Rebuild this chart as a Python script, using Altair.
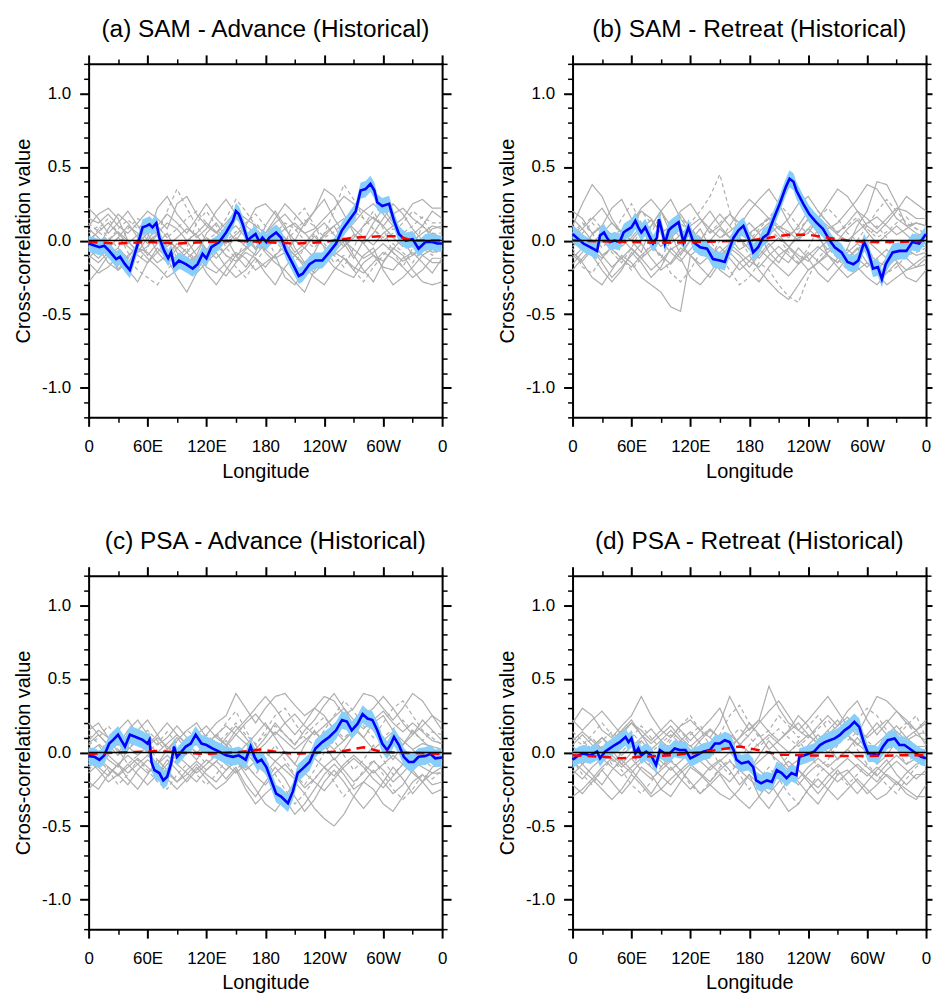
import altair as alt
import pandas as pd

FONT = "Liberation Sans"

TITLES = ["(a) SAM - Advance (Historical)", "(b) SAM - Retreat (Historical)",
          "(c) PSA - Advance (Historical)", "(d) PSA - Retreat (Historical)"]
X_TITLE = "Longitude"
Y_TITLE = "Cross-correlation value"
X_MAJOR = [0, 60, 120, 180, 240, 300, 360]
X_LABELS = ["0", "60E", "120E", "180", "120W", "60W", "0"]
X_MINOR = [30, 90, 150, 210, 270, 330]
Y_MAJOR = [-1.0, -0.5, 0.0, 0.5, 1.0]
Y_LABELS = ["-1.0", "-0.5", "0.0", "0.5", "1.0"]
Y_MINOR = [-1.2, -1.1, -0.9, -0.8, -0.7, -0.6, -0.4, -0.3, -0.2, -0.1,
           0.1, 0.2, 0.3, 0.4, 0.6, 0.7, 0.8, 0.9, 1.1, 1.2]
ZERO = [0.0]

# ensemble members (gray), sampled every 10 degrees of longitude
LON10 = list(range(0, 361, 10))
GRAY_DASHED = [0, 0, 1, 0, 0, 1, 0, 0, 0, 1, 0, 0, 1, 0, 0, 0]

GRAY_A = [
    [0.15,0.12,0.18,0.10,0.05,0.12,0.20,0.15,0.08,0.25,0.30,0.18,0.10,0.05,0.12,0.20,0.15,0.10,0.05,0.12,0.18,0.10,0.05,0.08,0.15,0.22,0.30,0.25,0.20,0.15,0.10,0.18,0.22,0.15,0.10,0.20,0.15],
    [-0.10,-0.15,-0.08,-0.20,-0.15,-0.05,-0.12,-0.18,-0.25,-0.20,-0.15,-0.10,-0.18,-0.22,-0.15,-0.08,-0.12,-0.20,-0.15,-0.10,-0.25,-0.30,-0.20,-0.15,-0.10,-0.18,-0.22,-0.25,-0.15,-0.10,-0.18,-0.20,-0.12,-0.08,-0.15,-0.22,-0.12],
    [0.05,0.10,0.02,-0.05,0.08,0.15,0.10,0.05,0.20,0.35,0.22,0.10,0.00,0.05,0.15,0.28,0.20,0.10,-0.02,0.05,0.12,0.08,0.00,-0.05,0.05,0.20,0.38,0.28,0.15,0.08,0.00,0.05,0.12,0.20,0.15,0.05,0.05],
    [-0.28,-0.20,-0.10,-0.05,-0.12,-0.02,0.05,-0.08,-0.15,-0.05,0.00,-0.10,-0.22,-0.30,-0.20,-0.10,-0.05,0.02,-0.08,-0.15,-0.20,-0.28,-0.35,-0.20,-0.12,-0.05,0.02,-0.10,-0.20,-0.28,-0.15,-0.05,-0.10,-0.20,-0.28,-0.30,-0.28],
    [0.22,0.15,0.05,0.12,0.20,0.10,0.00,0.10,0.18,0.12,0.05,0.15,0.25,0.15,0.08,0.00,0.10,0.22,0.25,0.18,0.08,0.00,0.12,0.20,0.28,0.15,0.05,0.12,0.20,0.25,0.18,0.10,0.15,0.25,0.28,0.22,0.22],
    [-0.05,0.00,-0.10,-0.18,-0.12,-0.20,-0.25,-0.30,-0.20,-0.12,-0.05,-0.15,-0.08,0.00,-0.10,-0.18,-0.25,-0.15,-0.05,0.00,-0.08,-0.15,-0.05,0.05,-0.05,-0.15,-0.10,-0.20,-0.28,-0.18,-0.10,-0.02,-0.08,-0.15,-0.05,-0.10,-0.05],
    [0.10,0.18,0.22,0.15,0.00,-0.08,0.02,0.22,0.30,0.18,0.10,0.02,0.08,0.20,0.28,0.18,0.05,-0.05,0.05,0.15,0.25,0.18,0.10,0.20,0.35,0.30,0.18,0.05,-0.02,0.05,0.15,0.25,0.18,0.08,0.00,0.08,0.10],
    [-0.15,-0.22,-0.18,-0.10,-0.20,-0.28,-0.15,-0.05,-0.12,-0.25,-0.35,-0.22,-0.15,-0.08,-0.18,-0.25,-0.20,-0.12,-0.22,-0.30,-0.18,-0.10,-0.18,-0.25,-0.30,-0.20,-0.12,-0.20,-0.10,-0.05,-0.20,-0.30,-0.25,-0.18,-0.10,-0.15,-0.15],
    [0.02,-0.05,0.08,0.18,0.12,0.02,-0.10,-0.02,0.05,-0.08,-0.20,-0.10,0.05,0.12,0.02,-0.10,-0.18,-0.08,0.10,0.20,0.10,-0.05,-0.15,-0.08,0.05,0.10,-0.02,-0.12,0.00,0.12,0.22,0.12,0.00,-0.10,-0.05,0.05,0.02],
    [-0.02,0.08,0.15,0.05,-0.08,-0.15,-0.05,0.10,0.02,-0.12,-0.05,0.12,0.20,0.10,-0.05,-0.12,0.00,0.12,0.05,-0.10,-0.02,0.15,0.22,0.10,-0.02,-0.10,-0.18,-0.05,0.10,0.20,0.08,-0.08,-0.18,-0.05,0.10,0.02,-0.02],
    [0.08,0.02,-0.05,0.02,0.10,0.05,-0.02,0.05,0.12,0.08,0.00,0.05,0.12,0.06,-0.02,0.04,0.10,0.05,-0.03,0.02,0.08,0.12,0.05,-0.02,0.03,0.10,0.15,0.08,0.02,-0.03,0.05,0.10,0.06,0.00,0.05,0.10,0.08],
    [-0.06,-0.12,-0.05,0.02,-0.04,-0.10,-0.15,-0.08,0.00,-0.05,-0.12,-0.06,0.02,-0.03,-0.10,-0.14,-0.06,0.00,-0.06,-0.12,-0.08,0.00,-0.05,-0.12,-0.15,-0.08,0.00,-0.06,-0.12,-0.08,-0.02,-0.08,-0.14,-0.10,-0.03,-0.08,-0.06],
    [0.12,0.06,0.00,0.08,0.14,0.08,0.15,0.10,0.02,0.08,0.15,0.20,0.12,0.05,0.00,0.06,0.12,0.18,0.10,0.03,0.00,0.06,0.14,0.10,0.02,0.06,0.12,0.20,0.15,0.08,0.02,0.08,0.05,0.10,0.16,0.12,0.12],
    [-0.12,-0.05,-0.15,-0.20,-0.10,-0.05,-0.08,-0.15,-0.10,-0.02,-0.08,-0.16,-0.10,-0.18,-0.24,-0.15,-0.08,-0.12,-0.18,-0.10,-0.04,-0.10,-0.16,-0.22,-0.15,-0.08,-0.12,-0.18,-0.22,-0.15,-0.08,-0.12,-0.18,-0.25,-0.20,-0.12,-0.12],
    [0.00,0.06,0.12,0.05,-0.02,0.04,0.10,0.04,-0.04,0.02,0.08,0.04,-0.06,-0.02,0.05,0.10,0.02,-0.06,0.00,0.08,0.02,-0.08,-0.02,0.06,0.12,0.04,-0.04,0.02,0.10,0.16,0.10,0.02,-0.04,0.04,0.10,0.04,0.00],
    [-0.04,-0.08,0.00,0.06,0.00,-0.08,-0.04,0.04,-0.06,-0.14,-0.08,0.00,-0.06,-0.12,-0.05,0.02,-0.04,-0.10,-0.02,0.04,-0.02,-0.10,-0.05,0.03,-0.04,-0.10,-0.04,0.04,-0.02,-0.10,-0.14,-0.06,0.02,-0.04,-0.10,-0.06,-0.04],
]
GRAY_B = [
    [0.10,0.25,0.38,0.30,0.15,0.05,0.10,0.20,0.15,0.05,0.10,0.20,0.25,0.15,0.05,0.10,0.18,0.12,0.05,0.10,0.15,0.08,0.02,0.10,0.20,0.15,0.08,0.12,0.20,0.28,0.38,0.35,0.25,0.15,0.10,0.12,0.10],
    [-0.10,-0.15,-0.25,-0.30,-0.20,-0.10,-0.15,-0.25,-0.30,-0.35,-0.45,-0.48,-0.10,-0.05,-0.12,-0.20,-0.25,-0.15,-0.10,-0.20,-0.28,-0.35,-0.40,-0.30,-0.20,-0.15,-0.10,-0.18,-0.25,-0.20,-0.15,-0.22,-0.30,-0.25,-0.20,-0.15,-0.10],
    [0.05,0.12,0.05,-0.05,0.02,0.15,0.25,0.12,0.05,0.18,0.10,0.02,0.12,0.20,0.30,0.45,0.20,0.05,0.00,0.08,0.15,0.25,0.18,0.10,0.05,0.15,0.22,0.15,0.05,0.00,0.10,0.20,0.28,0.20,0.12,0.08,0.05],
    [-0.20,-0.12,-0.05,-0.15,-0.25,-0.18,-0.10,-0.02,-0.12,-0.20,-0.15,-0.05,-0.10,-0.18,-0.25,-0.15,-0.08,-0.15,-0.22,-0.28,-0.18,-0.10,-0.05,-0.12,-0.20,-0.15,-0.08,-0.02,-0.10,-0.18,-0.25,-0.30,-0.22,-0.15,-0.25,-0.28,-0.20],
    [0.15,0.08,0.15,0.22,0.12,0.05,0.12,0.22,0.28,0.20,0.10,0.18,0.08,0.00,0.10,0.18,0.10,0.20,0.28,0.22,0.15,0.08,0.15,0.25,0.30,0.20,0.12,0.05,0.12,0.20,0.15,0.08,0.15,0.22,0.20,0.15,0.15],
    [-0.05,-0.18,-0.22,-0.12,-0.05,-0.12,-0.20,-0.12,-0.02,-0.10,-0.22,-0.28,-0.20,-0.08,0.00,-0.10,-0.20,-0.30,-0.25,-0.15,-0.20,-0.30,-0.38,-0.42,-0.25,-0.12,-0.05,-0.12,-0.20,-0.12,-0.05,-0.15,-0.22,-0.18,-0.10,-0.08,-0.05],
    [0.20,0.15,0.05,0.10,0.22,0.28,0.15,0.05,0.10,0.20,0.28,0.15,0.05,0.12,0.20,0.10,0.02,0.10,0.20,0.28,0.35,0.25,0.12,0.02,0.05,0.15,0.25,0.35,0.30,0.20,0.10,0.05,0.12,0.20,0.30,0.25,0.20],
    [-0.12,-0.05,-0.10,-0.20,-0.28,-0.20,-0.08,-0.15,-0.25,-0.18,-0.05,-0.12,-0.25,-0.30,-0.22,-0.12,-0.05,-0.10,-0.18,-0.10,-0.02,-0.10,-0.15,-0.05,-0.12,-0.22,-0.28,-0.20,-0.12,-0.05,-0.15,-0.20,-0.12,-0.05,-0.12,-0.18,-0.12],
    [0.02,0.08,0.00,-0.10,-0.05,0.05,0.00,-0.08,0.10,0.20,0.05,-0.10,0.00,0.08,-0.05,-0.15,-0.05,0.05,0.12,0.05,-0.08,-0.15,-0.05,0.05,0.15,0.05,-0.10,-0.15,-0.05,0.10,0.20,0.40,0.38,0.25,0.10,0.05,0.02],
    [-0.02,0.05,0.12,0.05,-0.08,-0.15,-0.05,0.08,-0.02,-0.12,0.00,0.12,0.05,-0.08,-0.12,0.00,0.10,0.02,-0.10,-0.05,0.08,0.02,-0.08,-0.15,-0.05,0.08,0.02,-0.10,-0.18,-0.10,0.02,0.10,0.02,-0.10,-0.05,0.05,-0.02],
    [0.10,0.04,-0.02,0.05,0.12,0.06,0.00,0.08,0.14,0.06,-0.02,0.04,0.10,0.15,0.08,0.02,0.06,0.12,0.05,-0.02,0.04,0.10,0.06,0.00,0.08,0.15,0.10,0.04,0.00,0.06,0.12,0.16,0.10,0.04,0.08,0.12,0.10],
    [-0.08,-0.14,-0.06,0.00,-0.06,-0.12,-0.18,-0.10,-0.04,-0.10,-0.16,-0.08,0.00,-0.06,-0.12,-0.08,-0.02,-0.08,-0.14,-0.18,-0.10,-0.04,-0.10,-0.16,-0.10,-0.04,-0.10,-0.15,-0.08,-0.02,-0.08,-0.14,-0.18,-0.12,-0.06,-0.10,-0.08],
    [0.04,0.10,0.16,0.08,0.02,0.08,0.14,0.20,0.12,0.05,0.10,0.16,0.08,0.02,0.06,0.12,0.18,0.10,0.04,0.10,0.16,0.10,0.04,0.08,0.14,0.20,0.12,0.06,0.10,0.16,0.08,0.02,0.06,0.12,0.16,0.08,0.04],
    [-0.16,-0.08,-0.02,-0.10,-0.18,-0.12,-0.05,-0.12,-0.20,-0.14,-0.06,-0.02,-0.10,-0.16,-0.10,-0.04,-0.12,-0.20,-0.14,-0.06,-0.12,-0.18,-0.24,-0.16,-0.08,-0.14,-0.20,-0.12,-0.06,-0.12,-0.18,-0.12,-0.06,-0.14,-0.20,-0.18,-0.16],
    [0.02,-0.04,0.04,0.10,0.04,-0.04,0.02,0.10,0.04,-0.04,0.02,0.08,0.02,-0.06,0.00,0.08,0.02,-0.06,-0.02,0.06,0.12,0.04,-0.04,0.02,0.08,0.02,-0.06,0.00,0.08,0.14,0.06,-0.02,0.04,0.10,0.04,-0.02,0.02],
    [-0.04,0.02,-0.06,-0.12,-0.04,0.02,-0.06,-0.12,-0.06,0.00,-0.08,-0.14,-0.06,0.02,-0.04,-0.10,-0.04,0.02,-0.06,-0.12,-0.04,0.02,-0.04,-0.10,-0.14,-0.06,0.00,-0.06,-0.12,-0.06,0.00,-0.06,-0.12,-0.06,0.00,-0.04,-0.04],
]
GRAY_C = [
    [0.15,0.20,0.10,0.05,0.15,0.22,0.12,0.05,0.10,0.18,0.10,0.05,0.12,0.20,0.25,0.40,0.30,0.20,0.30,0.38,0.40,0.32,0.25,0.30,0.38,0.35,0.25,0.30,0.40,0.38,0.30,0.22,0.30,0.40,0.35,0.25,0.15],
    [-0.20,-0.25,-0.15,-0.08,-0.18,-0.25,-0.15,-0.05,-0.12,-0.20,-0.15,-0.08,-0.15,-0.20,-0.12,-0.05,-0.15,-0.25,-0.35,-0.40,-0.30,-0.20,-0.28,-0.38,-0.45,-0.50,-0.42,-0.30,-0.20,-0.25,-0.35,-0.40,-0.30,-0.20,-0.15,-0.22,-0.20],
    [0.05,0.10,0.18,0.10,0.02,0.10,0.15,0.08,0.00,0.08,0.15,0.10,0.02,0.10,0.20,0.28,0.15,0.05,0.15,0.25,0.30,0.20,0.10,0.05,0.15,0.25,0.35,0.28,0.18,0.10,0.20,0.30,0.35,0.25,0.15,0.10,0.05],
    [-0.05,-0.12,-0.20,-0.15,-0.08,-0.15,-0.22,-0.15,-0.05,-0.12,-0.20,-0.12,-0.05,-0.10,-0.18,-0.10,-0.22,-0.30,-0.20,-0.10,-0.18,-0.30,-0.40,-0.32,-0.20,-0.12,-0.20,-0.30,-0.38,-0.30,-0.20,-0.10,-0.18,-0.28,-0.20,-0.10,-0.05],
    [0.20,0.12,0.05,0.15,0.22,0.12,0.05,0.12,0.20,0.12,0.05,0.12,0.18,0.10,0.05,0.15,0.22,0.30,0.38,0.30,0.20,0.12,0.20,0.30,0.25,0.15,0.08,0.15,0.25,0.30,0.38,0.30,0.20,0.12,0.18,0.25,0.20],
    [-0.12,-0.05,-0.12,-0.22,-0.15,-0.05,-0.12,-0.20,-0.25,-0.15,-0.08,-0.15,-0.22,-0.15,-0.05,-0.12,-0.05,0.05,-0.05,-0.15,-0.25,-0.35,-0.28,-0.18,-0.10,-0.20,-0.30,-0.22,-0.12,-0.05,-0.15,-0.25,-0.32,-0.25,-0.15,-0.18,-0.12],
    [0.08,0.15,0.10,0.00,0.08,0.15,0.22,0.12,0.02,0.08,0.15,0.20,0.10,0.02,0.10,0.18,0.10,0.02,0.10,0.20,0.12,0.05,0.15,0.22,0.32,0.40,0.30,0.18,0.10,0.20,0.25,0.15,0.05,0.12,0.22,0.15,0.08],
    [-0.25,-0.18,-0.10,-0.15,-0.22,-0.12,-0.05,-0.10,-0.18,-0.25,-0.18,-0.10,-0.18,-0.25,-0.20,-0.12,-0.25,-0.35,-0.28,-0.22,-0.32,-0.42,-0.35,-0.25,-0.15,-0.08,-0.15,-0.25,-0.20,-0.12,-0.20,-0.28,-0.22,-0.12,-0.20,-0.28,-0.25],
    [0.00,0.05,-0.05,-0.10,0.02,0.08,0.00,-0.08,0.02,0.10,0.02,-0.05,0.05,0.12,0.05,-0.02,0.05,0.12,0.20,0.10,0.00,-0.08,0.05,0.15,0.05,-0.05,0.02,0.12,0.22,0.15,0.05,-0.05,0.05,0.15,0.08,0.02,0.00],
    [-0.08,0.00,0.08,0.02,-0.08,-0.02,0.05,-0.05,-0.12,-0.05,0.05,0.00,-0.08,0.00,0.08,0.00,-0.10,-0.15,-0.05,0.05,-0.05,-0.15,-0.22,-0.12,0.00,0.08,-0.02,-0.12,-0.05,0.05,-0.05,-0.15,-0.08,0.02,-0.05,-0.10,-0.08],
    [0.06,0.12,0.05,-0.02,0.06,0.12,0.06,0.00,0.06,0.12,0.06,0.00,0.05,0.12,0.18,0.12,0.20,0.26,0.18,0.12,0.20,0.26,0.18,0.12,0.18,0.24,0.30,0.22,0.16,0.22,0.28,0.20,0.14,0.20,0.14,0.08,0.06],
    [-0.10,-0.04,-0.10,-0.16,-0.10,-0.04,-0.10,-0.16,-0.08,-0.02,-0.08,-0.14,-0.08,-0.02,-0.08,-0.14,-0.08,-0.16,-0.22,-0.14,-0.08,-0.16,-0.24,-0.18,-0.10,-0.04,-0.12,-0.20,-0.14,-0.06,-0.12,-0.20,-0.14,-0.06,-0.10,-0.14,-0.10],
    [0.12,0.06,0.00,0.06,0.12,0.06,0.00,0.06,0.14,0.06,0.00,0.06,0.12,0.06,0.12,0.20,0.12,0.06,0.12,0.18,0.12,0.06,0.12,0.18,0.24,0.16,0.10,0.16,0.22,0.16,0.10,0.16,0.22,0.14,0.08,0.14,0.12],
    [-0.04,-0.10,-0.16,-0.08,-0.02,-0.08,-0.14,-0.08,-0.02,-0.08,-0.14,-0.20,-0.12,-0.06,-0.12,-0.06,0.00,-0.08,-0.14,-0.06,0.00,-0.08,-0.14,-0.20,-0.26,-0.18,-0.10,-0.04,-0.10,-0.18,-0.24,-0.16,-0.08,-0.02,-0.08,-0.06,-0.04],
    [0.02,-0.04,0.04,0.10,0.04,-0.02,0.04,0.10,0.04,-0.02,0.04,0.10,0.04,-0.02,0.04,0.12,0.06,0.00,0.06,0.14,0.08,0.02,0.08,0.14,0.08,0.02,0.08,0.16,0.10,0.02,0.08,0.14,0.08,0.02,0.06,0.04,0.02],
    [-0.14,-0.08,-0.02,-0.08,-0.14,-0.08,-0.02,-0.08,-0.14,-0.20,-0.12,-0.06,-0.12,-0.06,0.00,-0.06,-0.12,-0.06,0.00,-0.06,-0.12,-0.18,-0.10,-0.04,-0.10,-0.16,-0.08,-0.02,-0.08,-0.14,-0.08,-0.02,-0.08,-0.14,-0.20,-0.14,-0.14],
]
GRAY_D = [
    [0.20,0.30,0.25,0.15,0.10,0.18,0.25,0.38,0.25,0.15,0.10,0.18,0.22,0.15,0.10,0.20,0.38,0.25,0.15,0.22,0.45,0.30,0.20,0.15,0.22,0.30,0.38,0.28,0.18,0.12,0.25,0.38,0.35,0.28,0.20,0.15,0.20],
    [-0.30,-0.25,-0.18,-0.25,-0.32,-0.25,-0.15,-0.22,-0.30,-0.25,-0.18,-0.12,-0.20,-0.28,-0.22,-0.15,-0.25,-0.32,-0.38,-0.30,-0.20,-0.30,-0.40,-0.35,-0.25,-0.18,-0.25,-0.32,-0.25,-0.18,-0.25,-0.32,-0.28,-0.20,-0.25,-0.30,-0.30],
    [0.10,0.05,0.12,0.20,0.12,0.05,0.10,0.18,0.10,0.02,0.10,0.18,0.25,0.15,0.05,0.12,0.25,0.32,0.20,0.10,0.15,0.25,0.18,0.10,0.18,0.25,0.15,0.05,0.12,0.22,0.30,0.25,0.15,0.10,0.18,0.25,0.10],
    [-0.15,-0.08,-0.15,-0.22,-0.12,-0.05,-0.12,-0.20,-0.28,-0.18,-0.10,-0.18,-0.25,-0.18,-0.10,-0.05,-0.12,-0.22,-0.15,-0.30,-0.38,-0.28,-0.18,-0.12,-0.20,-0.28,-0.20,-0.12,-0.20,-0.28,-0.20,-0.12,-0.05,-0.15,-0.22,-0.15,-0.15],
    [0.22,0.15,0.22,0.28,0.20,0.12,0.20,0.15,0.08,0.15,0.22,0.15,0.08,0.15,0.22,0.30,0.15,0.05,0.12,0.20,0.28,0.35,0.25,0.15,0.10,0.18,0.25,0.18,0.28,0.35,0.22,0.12,0.20,0.28,0.22,0.15,0.22],
    [-0.05,-0.15,-0.22,-0.12,-0.05,-0.12,-0.22,-0.28,-0.20,-0.10,-0.05,-0.12,-0.22,-0.28,-0.20,-0.10,-0.05,-0.15,-0.25,-0.18,-0.10,-0.18,-0.28,-0.35,-0.25,-0.15,-0.08,-0.15,-0.22,-0.15,-0.08,-0.15,-0.22,-0.28,-0.18,-0.10,-0.05],
    [0.05,0.12,0.05,-0.02,0.08,0.15,0.22,0.12,0.02,0.08,0.15,0.08,0.00,0.08,0.15,0.10,0.02,0.10,0.20,0.12,0.02,0.08,0.15,0.25,0.18,0.08,0.15,0.22,0.12,0.05,0.12,0.20,0.12,0.05,0.10,0.15,0.05],
    [-0.22,-0.28,-0.20,-0.12,-0.20,-0.28,-0.20,-0.10,-0.15,-0.25,-0.30,-0.20,-0.10,-0.15,-0.22,-0.28,-0.32,-0.25,-0.15,-0.22,-0.28,-0.20,-0.12,-0.20,-0.28,-0.35,-0.25,-0.15,-0.12,-0.20,-0.28,-0.22,-0.15,-0.20,-0.28,-0.32,-0.22],
    [0.00,-0.08,0.02,0.10,0.02,-0.08,0.00,0.08,0.00,-0.10,-0.02,0.08,0.02,-0.05,0.05,0.12,0.05,-0.05,-0.12,-0.02,0.08,0.00,-0.10,-0.05,0.05,0.12,0.05,-0.05,0.02,0.10,0.02,-0.08,-0.02,0.08,0.02,-0.05,0.00],
    [-0.08,0.02,0.10,0.02,-0.08,0.00,0.08,0.02,-0.10,-0.02,0.08,0.15,0.05,-0.05,0.02,-0.08,-0.15,-0.05,0.05,0.12,0.02,-0.10,-0.02,0.08,0.00,-0.10,-0.05,0.05,0.12,0.02,-0.08,0.00,0.10,0.02,-0.08,0.00,-0.08],
    [0.08,0.14,0.08,0.02,0.08,0.14,0.20,0.12,0.06,0.12,0.18,0.10,0.04,0.10,0.16,0.10,0.04,0.10,0.16,0.22,0.14,0.08,0.14,0.20,0.12,0.06,0.12,0.18,0.24,0.16,0.10,0.16,0.22,0.14,0.08,0.12,0.08],
    [-0.12,-0.18,-0.10,-0.04,-0.10,-0.16,-0.10,-0.04,-0.10,-0.16,-0.22,-0.14,-0.08,-0.14,-0.20,-0.12,-0.06,-0.12,-0.18,-0.24,-0.16,-0.10,-0.16,-0.22,-0.14,-0.08,-0.14,-0.20,-0.14,-0.08,-0.14,-0.20,-0.12,-0.06,-0.12,-0.18,-0.12],
    [0.14,0.08,0.02,0.08,0.14,0.08,0.14,0.06,0.00,0.06,0.12,0.06,0.12,0.18,0.10,0.04,0.10,0.16,0.10,0.04,0.10,0.16,0.10,0.04,0.10,0.16,0.22,0.14,0.08,0.14,0.08,0.02,0.08,0.14,0.20,0.12,0.14],
    [-0.06,-0.12,-0.18,-0.10,-0.04,-0.10,-0.04,-0.12,-0.18,-0.12,-0.06,-0.12,-0.06,0.00,-0.08,-0.14,-0.20,-0.12,-0.06,-0.12,-0.18,-0.12,-0.06,-0.12,-0.18,-0.24,-0.16,-0.10,-0.04,-0.10,-0.16,-0.10,-0.16,-0.22,-0.14,-0.08,-0.06],
    [0.04,-0.02,0.04,0.10,0.04,-0.02,0.04,0.10,0.16,0.08,0.02,0.08,0.14,0.06,0.00,0.06,0.12,0.06,0.00,0.06,0.12,0.06,0.00,0.06,0.12,0.06,0.00,0.06,0.12,0.06,0.00,0.06,0.12,0.18,0.10,0.04,0.04],
    [-0.02,-0.08,-0.02,0.04,-0.02,-0.08,-0.14,-0.06,0.00,-0.06,-0.12,-0.06,0.00,-0.06,-0.12,-0.06,0.00,-0.06,-0.12,-0.06,0.00,-0.06,-0.12,-0.18,-0.10,-0.04,-0.10,-0.04,0.02,-0.04,-0.10,-0.16,-0.08,-0.02,-0.08,-0.04,-0.02],
]

# observed cross-correlation (blue) and its band half-width (light blue)
BLUE_LON_A = [0,11,16,21,28,32,37,42,47,52,55,59,62,65,69,72,77,81,84,87,92,99,106,111,116,120,125,133,140,147,150,153,157,162,165,170,174,177,181,184,191,196,201,208,214,218,225,231,238,245,252,258,265,272,277,282,287,291,294,299,306,311,316,323,330,336,343,350,355,360]
BLUE_A = [-0.02,-0.045,-0.035,-0.07,-0.125,-0.11,-0.16,-0.20,-0.09,0.02,0.09,0.10,0.11,0.09,0.12,0.02,-0.07,-0.12,-0.08,-0.17,-0.135,-0.16,-0.19,-0.16,-0.09,-0.12,-0.045,-0.01,0.055,0.135,0.20,0.18,0.11,0.0,0.02,0.045,-0.01,0.02,-0.01,0.02,0.055,0.02,-0.07,-0.16,-0.24,-0.225,-0.16,-0.135,-0.135,-0.08,-0.02,0.07,0.135,0.20,0.34,0.35,0.385,0.34,0.26,0.235,0.25,0.135,0.045,0.0,0.01,-0.055,-0.01,-0.01,-0.02,-0.02]
BLUE_LON_B = [0,6,11,18,25,28,32,35,38,43,48,52,55,60,64,67,70,74,79,82,86,88,91,94,98,101,108,113,118,123,130,137,143,150,155,159,164,169,174,179,184,189,194,199,204,211,217,221,225,228,235,241,248,255,262,267,274,280,286,291,297,301,306,311,315,319,326,333,340,346,353,360]
BLUE_B = [0.045,0.01,-0.02,-0.045,-0.07,0.035,0.055,0.02,-0.01,0.0,-0.01,0.055,0.07,0.09,0.135,0.09,0.055,0.09,0.02,-0.02,0.02,0.145,0.07,-0.02,0.07,0.09,0.125,-0.01,0.09,-0.01,-0.045,-0.055,-0.125,-0.135,-0.145,-0.07,0.02,0.07,0.10,0.02,-0.08,-0.045,0.02,0.045,0.135,0.25,0.36,0.42,0.40,0.34,0.25,0.18,0.125,0.08,0.0,-0.045,-0.08,-0.145,-0.16,-0.135,-0.01,-0.07,-0.19,-0.18,-0.26,-0.16,-0.08,-0.07,-0.07,-0.01,-0.02,0.045]
BLUE_LON_C = [0,6,11,16,21,25,30,33,37,42,48,55,60,62,64,67,72,76,80,84,87,90,94,99,104,109,115,120,126,133,140,147,153,160,165,169,172,176,181,186,191,196,203,208,213,218,225,231,238,245,252,258,263,268,274,279,284,289,294,299,304,308,311,316,321,326,331,336,343,348,353,360]
BLUE_C = [-0.025,-0.03,-0.05,-0.02,0.06,0.085,0.12,0.085,0.04,0.12,0.105,0.085,0.06,0.085,-0.065,-0.12,-0.14,-0.19,-0.165,-0.075,0.04,-0.03,0.0,0.04,0.06,0.12,0.06,0.05,0.027,0.005,-0.02,-0.03,-0.02,-0.05,0.04,-0.03,-0.065,-0.05,-0.1,-0.19,-0.28,-0.3,-0.345,-0.265,-0.14,-0.11,-0.065,0.027,0.07,0.105,0.15,0.22,0.21,0.15,0.195,0.26,0.23,0.22,0.15,0.06,0.016,0.06,0.105,0.05,-0.03,-0.065,-0.065,-0.03,-0.025,-0.01,-0.04,-0.035]
BLUE_LON_D = [0,6,11,18,25,28,33,38,43,48,54,57,60,64,67,70,75,80,85,89,94,99,104,109,115,120,126,133,140,145,150,155,160,164,167,172,179,184,187,192,198,203,208,213,218,223,228,231,236,241,246,252,257,262,267,272,277,282,287,292,297,301,306,311,316,321,328,333,338,343,350,355,360]
BLUE_D = [-0.05,-0.02,-0.007,-0.02,0.005,-0.04,0.005,0.027,0.05,0.07,0.105,0.07,0.095,-0.007,0.027,-0.02,0.005,-0.02,-0.085,0.016,-0.007,-0.007,0.027,0.016,0.016,-0.04,-0.02,0.005,0.016,0.06,0.06,0.083,0.07,0.016,-0.05,-0.075,-0.063,-0.1,-0.19,-0.21,-0.19,-0.2,-0.12,-0.14,-0.175,-0.14,-0.155,-0.03,-0.02,-0.007,0.005,0.05,0.07,0.083,0.095,0.117,0.15,0.173,0.207,0.173,0.06,-0.007,-0.007,-0.02,0.038,0.083,0.095,0.05,0.05,0.027,-0.007,-0.03,-0.04]
BAND_HALF = [0.055, 0.058, 0.06, 0.058]

# ensemble mean (red dashed)
RED_LON_A = [0,30,60,90,120,150,180,210,240,270,300,315,330,360]
RED_A = [-0.01,-0.02,-0.01,-0.02,-0.01,0.0,-0.01,-0.02,-0.01,0.02,0.03,0.03,0.0,0.0]
RED_LON_B = [0,30,60,90,120,150,180,200,220,240,260,280,300,330,360]
RED_B = [0.0,-0.005,-0.01,-0.015,-0.01,-0.005,0.0,0.02,0.04,0.04,0.02,0.0,-0.01,-0.01,0.0]
RED_LON_C = [0,30,60,70,90,120,150,175,190,210,240,260,280,295,310,360]
RED_C = [-0.01,0.0,0.005,0.01,0.0,-0.01,0.0,0.02,0.005,-0.01,0.0,0.01,0.035,0.01,0.0,-0.01]
RED_LON_D = [0,30,50,70,100,130,150,170,190,210,240,270,300,330,360]
RED_D = [-0.02,-0.03,-0.04,-0.03,-0.02,0.0,0.02,0.04,0.015,-0.015,-0.02,-0.025,-0.025,-0.02,-0.02]

PANELS = [
    (TITLES[0], GRAY_A, BLUE_LON_A, BLUE_A, BAND_HALF[0], RED_LON_A, RED_A, 9),
    (TITLES[1], GRAY_B, BLUE_LON_B, BLUE_B, BAND_HALF[1], RED_LON_B, RED_B, 6),
    (TITLES[2], GRAY_C, BLUE_LON_C, BLUE_C, BAND_HALF[2], RED_LON_C, RED_C, 9),
    (TITLES[3], GRAY_D, BLUE_LON_D, BLUE_D, BAND_HALF[3], RED_LON_D, RED_D, 6),
]

W = 355
H = 355
XS = alt.Scale(domain=[0, 360], nice=False, zero=False)
YS = alt.Scale(domain=[-1.2, 1.2], nice=False, zero=False)

x_expr = "[" + ",".join("'%s'" % s for s in X_LABELS) + "][round(datum.value / 60)]"
y_expr = "[" + ",".join("'%s'" % s for s in Y_LABELS) + "][round(datum.value * 2) + 2]"

COMMON = dict(grid=False, tickColor="black", labelFlush=False, minExtent=0,
              domainColor="black", domainWidth=2, domainCap="square",
              labelFont=FONT, labelFontSize=17, labelColor="black",
              titleFont=FONT, titleFontSize=20, titleColor="black",
              titleFontWeight="normal")


def axis(orient, values, size, width, domain=False, **kw):
    d = dict(COMMON)
    d.update(dict(orient=orient, values=values, tickSize=size, tickWidth=width,
                  domain=domain))
    d.update(kw)
    return alt.Axis(**d)


def make_panel(title, gray, blon, bval, half, rlon, rval, right_tick):
    ax_bottom = axis("bottom", X_MAJOR, 9, 2, domain=True, labels=True, labelExpr=x_expr,
                     labelPadding=12, title=X_TITLE, titleX=W / 2, titleY=60,
                     titleAlign="center", titleBaseline="alphabetic")
    ax_bottom_minor = axis("bottom", X_MINOR, 5, 1.5, labels=False, title=None)
    ax_top = axis("top", X_MAJOR, 9, 2, domain=True, labels=False, title=None)
    ax_top_minor = axis("top", X_MINOR, 5, 1.5, labels=False, title=None)
    ax_left = axis("left", Y_MAJOR, 9, 2, domain=True, labels=True, labelExpr=y_expr,
                   labelPadding=9, title=Y_TITLE, titleX=-59, titleY=H / 2,
                   titleAlign="center", titleBaseline="alphabetic")
    ax_left_minor = axis("left", Y_MINOR, 5, 1.5, labels=False, title=None)
    ax_right = axis("right", Y_MAJOR, right_tick, 2, domain=True, labels=False, title=None)
    ax_right_minor = axis("right", Y_MINOR, min(5, right_tick), 1.5, labels=False, title=None)

    grows = []
    for m, series in enumerate(gray):
        for lon, v in zip(LON10, series):
            grows.append({"member": m, "dash": "dash" if GRAY_DASHED[m] else "solid",
                          "lon": lon, "val": v})
    gdf = pd.DataFrame(grows)
    bdf = pd.DataFrame({"lon": blon, "val": bval})
    bdf["lo"] = bdf["val"] - half
    bdf["hi"] = bdf["val"] + half
    rdf = pd.DataFrame({"lon": rlon, "val": rval})
    zdf = pd.DataFrame({"y": ZERO})

    g = alt.Chart(gdf).mark_line(color="#aeaeae", strokeWidth=1.2).encode(
        x=alt.X("lon:Q", scale=XS, axis=ax_bottom),
        y=alt.Y("val:Q", scale=YS, axis=ax_left),
        detail="member:N",
        strokeDash=alt.StrokeDash("dash:N", legend=None,
                                  scale=alt.Scale(domain=["solid", "dash"],
                                                  range=[[1, 0], [4, 3]])),
    )
    band = alt.Chart(bdf).mark_area(color="#87cefa", opacity=1).encode(
        x=alt.X("lon:Q", scale=XS, axis=ax_bottom_minor),
        y=alt.Y("lo:Q", scale=YS, axis=ax_left_minor),
        y2="hi:Q",
    )
    blue = alt.Chart(bdf).mark_line(color="#0000ff", strokeWidth=2.6).encode(
        x=alt.X("lon:Q", scale=XS, axis=ax_top),
        y=alt.Y("val:Q", scale=YS, axis=ax_right),
    )
    red = alt.Chart(rdf).mark_line(color="#ff0000", strokeWidth=2.5, strokeDash=[9, 6]).encode(
        x=alt.X("lon:Q", scale=XS, axis=ax_top_minor),
        y=alt.Y("val:Q", scale=YS, axis=ax_right_minor),
    )
    zero = alt.Chart(zdf).mark_rule(color="black", strokeWidth=1.5).encode(
        y=alt.Y("y:Q", scale=YS, axis=None),
    )
    return alt.layer(g, band, blue, red, zero).resolve_axis(
        x="independent", y="independent"
    ).properties(
        width=W, height=H,
        title=alt.TitleParams(text=title, font=FONT, fontSize=24.5, fontWeight="normal",
                              color="black", anchor="middle", frame="group",
                              baseline="alphabetic", offset=-8),
    )


panels = [make_panel(*p) for p in PANELS]

chart = alt.concat(*panels, columns=2, spacing={"row": 159, "column": 131},
                   bounds="flush").properties(
    padding={"left": 13, "top": 15, "right": 0, "bottom": 0}
).configure_view(strokeWidth=0).configure(font=FONT)

chart.save("out.html", embed_options={"renderer": "svg", "actions": False})
